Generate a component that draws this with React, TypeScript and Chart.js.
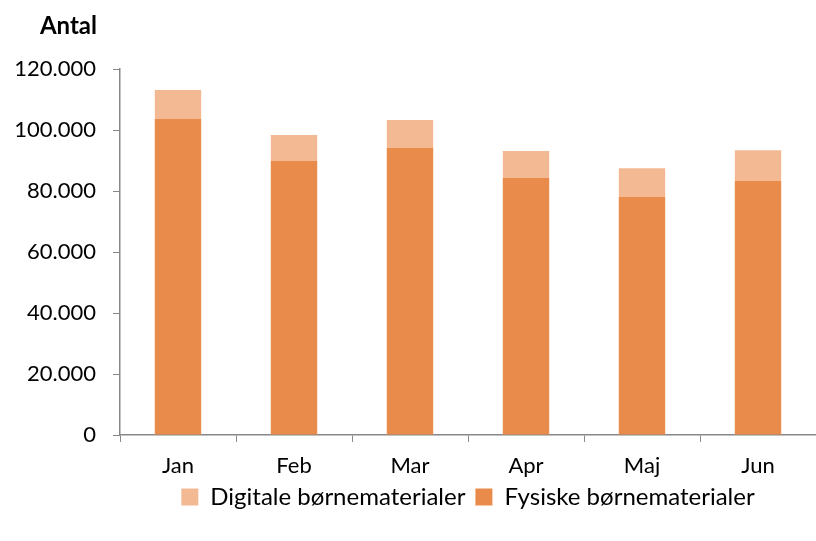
import React, { useEffect, useRef } from "react";
import { Chart, registerables } from "chart.js";

Chart.register(...registerables);

const months = ["Jan", "Feb", "Mar", "Apr", "Maj", "Jun"];
const fysiske = [103600, 89800, 94100, 84300, 78000, 83300];
const digitale = [9500, 8600, 9200, 8800, 9500, 10100];
const yTicks = [0, 20000, 40000, 60000, 80000, 100000, 120000];

const FONT = "Lato, 'Open Sans', sans-serif";

function fmt(v: number) {
  return String(Math.round(v)).replace(/\B(?=(\d{3})+(?!\d))/g, ".");
}

const titlePlugin = {
  id: "antalTitle",
  afterLayout(chart: any) {
    const lg = chart.legend;
    if (lg) {
      lg.top -= 10;
      lg.bottom -= 10;
    }
  },
  afterDraw(chart: any) {
    const ctx = chart.ctx;
    const y = chart.scales.y;
    ctx.save();
    ctx.font = `bold 24px ${FONT}`;
    ctx.fillStyle = "#000";
    ctx.textAlign = "right";
    ctx.textBaseline = "middle";
    ctx.fillText("Antal", y.right - 23, 26);
    ctx.restore();
  },
};

export default function App() {
  const ref = useRef<HTMLCanvasElement | null>(null);
  useEffect(() => {
    document.body.style.margin = "0";
    const chart = new Chart(ref.current!, {
      type: "bar",
      data: {
        labels: months,
        datasets: [
          {
            label: "Fysiske børnematerialer",
            data: fysiske,
            backgroundColor: "#E98C4B",
            borderWidth: 0,
          },
          {
            label: "Digitale børnematerialer",
            data: digitale,
            backgroundColor: "#F2B993",
            borderWidth: 0,
          },
        ],
      },
      options: {
        animation: false,
        responsive: false,
        maintainAspectRatio: false,
        layout: { padding: { top: 69, left: 0, right: 0, bottom: 12 } },
        datasets: { bar: { categoryPercentage: 1, barPercentage: 0.4 } },
        scales: {
          x: {
            stacked: true,
            offset: true,
            grid: {
              display: true,
              drawOnChartArea: false,
              drawTicks: true,
              tickLength: 7,
              color: "#888",
              offset: true,
            },
            border: { display: true, color: "#888", width: 1.5 },
            ticks: { color: "#000", font: { family: FONT, size: 22 }, padding: 11 },
            afterFit(scale: any) {
              scale.height = 50;
            },
          },
          y: {
            stacked: true,
            min: 0,
            max: 120000,
            afterBuildTicks(scale: any) {
              scale.ticks = yTicks.map((v) => ({ value: v }));
            },
            grid: {
              display: true,
              drawOnChartArea: false,
              drawTicks: true,
              tickLength: 7,
              color: "#888",
            },
            border: { display: true, color: "#888", width: 1.5 },
            ticks: {
              color: "#000",
              font: { family: FONT, size: 22 },
              padding: 17,
              callback: (v: any) => fmt(Number(v)),
            },
            afterFit(scale: any) {
              scale.width = 120;
            },
          },
        },
        plugins: {
          legend: {
            position: "bottom",
            fullSize: false,
            reverse: true,
            labels: {
              color: "#000",
              font: { family: FONT, size: 24 },
              boxWidth: 17,
              boxHeight: 17,
              padding: 10,
            },
          },
          tooltip: { enabled: false },
        },
      },
      plugins: [titlePlugin],
    });
    return () => chart.destroy();
  }, []);
  return (
    <div style={{ position: "absolute", left: 0, top: 0, width: 816, height: 541, background: "#fff" }}>
      <canvas ref={ref} width={816} height={541} />
    </div>
  );
}
